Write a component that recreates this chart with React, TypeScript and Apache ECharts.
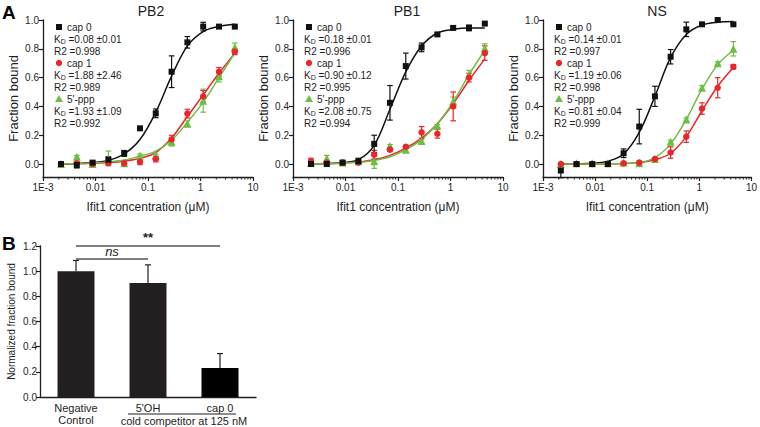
import React, { useEffect, useRef } from "react";
import * as echarts from "echarts";

// ---------- DATA ----------
const concentrations = [0.0022, 0.0044, 0.0088, 0.0176, 0.0352, 0.0703, 0.1406, 0.2813, 0.5625, 1.125, 2.25, 4.5];

const panelTitles = ["PB2", "PB1", "NS"];
const seriesNames = ["cap 0", "cap 1", "5'-ppp"];

// PB2
const pb2Cap0Mean = [0.0, -0.007, 0.01, 0.03, 0.074, 0.248, 0.352, 0.641, 0.845, 0.954, 0.954, 0.954];
const pb2Cap0Err = [0.01, 0.02, 0.01, 0.02, 0.02, 0.005, 0.03, 0.11, 0.04, 0.03, 0.005, 0.005];
const pb2Cap1Mean = [0.0, 0.005, 0.0, 0.005, 0.005, 0.016, 0.035, 0.17, 0.35, 0.47, 0.64, 0.78];
const pb2Cap1Err = [0.005, 0.01, 0.005, 0.01, 0.01, 0.02, 0.02, 0.03, 0.03, 0.04, 0.03, 0.02];
const pb2PppMean = [0.0, 0.05, 0.0, 0.04, 0.005, 0.06, 0.06, 0.155, 0.28, 0.44, 0.61, 0.81];
const pb2PppErr = [0.005, 0.01, 0.01, 0.05, 0.01, 0.01, 0.01, 0.03, 0.02, 0.08, 0.04, 0.03];
const pb2Cap0Fit = [0.0, 0.004, 0.01, 0.025, 0.07, 0.17, 0.36, 0.61, 0.82, 0.92, 0.955, 0.97];
const pb2Cap1Fit = [0.0, 0.002, 0.005, 0.01, 0.02, 0.04, 0.08, 0.18, 0.33, 0.48, 0.63, 0.77];
const pb2PppFit = [0.0, 0.003, 0.008, 0.015, 0.028, 0.055, 0.09, 0.165, 0.29, 0.43, 0.6, 0.77];

// PB1
const pb1Cap0Mean = [0.0, 0.0, 0.01, 0.02, 0.14, 0.425, 0.68, 0.81, 0.9, 0.945, 0.945, 0.975];
const pb1Cap0Err = [0.01, 0.01, 0.01, 0.02, 0.06, 0.12, 0.09, 0.03, 0.01, 0.01, 0.02, 0.01];
const pb1Cap1Mean = [0.02, 0.01, 0.01, 0.01, 0.065, 0.1, 0.12, 0.22, 0.21, 0.4, 0.6, 0.77];
const pb1Cap1Err = [0.02, 0.01, 0.01, 0.01, 0.03, 0.01, 0.01, 0.04, 0.03, 0.1, 0.03, 0.05];
const pb1PppMean = [0.01, 0.04, 0.01, 0.02, 0.02, 0.125, 0.1, 0.16, 0.265, 0.435, 0.62, 0.805];
const pb1PppErr = [0.01, 0.02, 0.01, 0.01, 0.05, 0.01, 0.01, 0.01, 0.01, 0.03, 0.03, 0.03];
const pb1Cap0Fit = [0.0, 0.003, 0.01, 0.03, 0.13, 0.38, 0.64, 0.82, 0.91, 0.935, 0.945, 0.945];
const pb1Cap1Fit = [0.0, 0.003, 0.008, 0.015, 0.03, 0.06, 0.11, 0.18, 0.28, 0.42, 0.58, 0.73];
const pb1PppFit = [0.0, 0.002, 0.006, 0.012, 0.025, 0.05, 0.1, 0.17, 0.28, 0.43, 0.62, 0.79];

// NS
const nsCap0Mean = [-0.045, 0.0, 0.0, 0.0, 0.075, 0.26, 0.47, 0.745, 0.935, 0.97, 1.0, 0.97];
const nsCap0Err = [0.05, 0.01, 0.01, 0.01, 0.03, 0.12, 0.07, 0.05, 0.05, 0.01, 0.005, 0.005];
const nsCap1Mean = [0.0, 0.0, 0.0, 0.0, 0.005, 0.01, 0.035, 0.08, 0.19, 0.385, 0.53, 0.675];
const nsCap1Err = [0.01, 0.01, 0.01, 0.01, 0.01, 0.01, 0.01, 0.04, 0.04, 0.04, 0.07, 0.015];
const nsPppMean = [0.0, 0.005, 0.005, 0.005, 0.01, 0.005, 0.035, 0.155, 0.31, 0.53, 0.7, 0.8];
const nsPppErr = [0.005, 0.005, 0.005, 0.005, 0.005, 0.005, 0.01, 0.01, 0.01, 0.015, 0.01, 0.05];
const nsCap0Fit = [0.0, 0.002, 0.005, 0.02, 0.07, 0.22, 0.47, 0.74, 0.9, 0.965, 0.985, 0.99];
const nsCap1Fit = [0.0, 0.0, 0.0, 0.001, 0.003, 0.01, 0.03, 0.075, 0.19, 0.37, 0.54, 0.67];
const nsPppFit = [0.0, 0.0, 0.0, 0.002, 0.004, 0.01, 0.045, 0.14, 0.31, 0.52, 0.69, 0.79];

const pb2Kd = ["0.08 ±0.01", "1.88 ±2.46", "1.93 ±1.09"];
const pb2R2 = ["0.998", "0.989", "0.992"];
const pb1Kd = ["0.18 ±0.01", "0.90 ±0.12", "2.08 ±0.75"];
const pb1R2 = ["0.996", "0.995", "0.994"];
const nsKd = ["0.14 ±0.01", "1.19 ±0.06", "0.81 ±0.04"];
const nsR2 = ["0.997", "0.998", "0.999"];

const fractionTicks = [0, 0.2, 0.4, 0.6, 0.8, 1.0];

// Panel B
const competitorCategories = ["Negative\nControl", "5'OH", "cap 0"];
const normalizedMean = [1.0, 0.905, 0.23];
const normalizedErr = [0.085, 0.145, 0.115];

// ---------- STYLE ----------
const FONT = "'Liberation Sans', Arial, sans-serif";
const INK = "#1e1e1e";
const BLACK = "#111111";
const RED = "#e8262b";
const GREEN = "#6fbe44";
const colors = [BLACK, RED, GREEN];
const symbols = ["rect", "circle", "triangle"];
const symbolSizes = [6, 6.5, 8];

const panels = [
  { means: [pb2Cap0Mean, pb2Cap1Mean, pb2PppMean], errs: [pb2Cap0Err, pb2Cap1Err, pb2PppErr], fits: [pb2Cap0Fit, pb2Cap1Fit, pb2PppFit], kd: pb2Kd, r2: pb2R2 },
  { means: [pb1Cap0Mean, pb1Cap1Mean, pb1PppMean], errs: [pb1Cap0Err, pb1Cap1Err, pb1PppErr], fits: [pb1Cap0Fit, pb1Cap1Fit, pb1PppFit], kd: pb1Kd, r2: pb1R2 },
  { means: [nsCap0Mean, nsCap1Mean, nsPppMean], errs: [nsCap0Err, nsCap1Err, nsPppErr], fits: [nsCap0Fit, nsCap1Fit, nsPppFit], kd: nsKd, r2: nsR2 },
];

const minorTickValues: number[] = [];
for (let d = -3; d < 1; d++) {
  for (let m = 2; m <= 9; m++) minorTickValues.push(m * Math.pow(10, d));
}

const Y_MIN_A = -0.09;

function fmtLog(v: number) {
  const e = Math.round(Math.log10(v));
  if (e <= -3) return "1E-3";
  if (e < 0) return Math.pow(10, e).toFixed(-e);
  return String(Math.round(Math.pow(10, e)));
}

function errorRenderer(color: string, capHalf: number, upOnly: boolean) {
  return (params: any, api: any) => {
    const x = api.value(0);
    const y = api.value(1);
    const e = api.value(2);
    const top = api.coord([x, y + e]);
    const bot = upOnly ? api.coord([x, y]) : api.coord([x, y - e]);
    const st = { stroke: color, lineWidth: 1.2 };
    const children: any[] = [
      { type: "line", shape: { x1: top[0], y1: top[1], x2: bot[0], y2: bot[1] }, style: st },
      { type: "line", shape: { x1: top[0] - capHalf, y1: top[1], x2: top[0] + capHalf, y2: top[1] }, style: st },
    ];
    if (!upOnly) {
      children.push({ type: "line", shape: { x1: bot[0] - capHalf, y1: bot[1], x2: bot[0] + capHalf, y2: bot[1] }, style: st });
    }
    return { type: "group", children };
  };
}

function buildOption() {
  const grid: any[] = [];
  const xAxis: any[] = [];
  const yAxis: any[] = [];
  const series: any[] = [];
  const graphic: any[] = [];

  panels.forEach((p, i) => {
    const L = 43 + 250 * i;
    grid.push({ left: L, top: 20, width: 210, height: 157 });
    xAxis.push({
      type: "log", logBase: 10, gridIndex: i, min: 0.001, max: 10,
      name: "Ifit1 concentration (μM)", nameLocation: "middle", nameGap: 24,
      nameTextStyle: { fontSize: 12, color: INK, fontFamily: FONT },
      axisLine: { show: true, onZero: false, lineStyle: { color: INK, width: 1.3 } },
      axisTick: { show: true, length: 4, lineStyle: { color: INK, width: 1.2 } },
      axisLabel: { fontSize: 10, color: INK, fontFamily: FONT, margin: 5, formatter: fmtLog },
      splitLine: { show: false },
      minorTick: { show: false },
    });
    yAxis.push({
      type: "value", gridIndex: i, min: Y_MIN_A, max: 1,
      name: "Fraction bound", nameLocation: "middle", nameGap: 23,
      nameTextStyle: { fontSize: 13, color: INK, fontFamily: FONT },
      axisLine: { show: true, onZero: false, lineStyle: { color: INK, width: 1.3 } },
      axisTick: { show: true, length: 4, customValues: fractionTicks, lineStyle: { color: INK, width: 1.2 } },
      axisLabel: { customValues: fractionTicks, fontSize: 10, color: INK, fontFamily: FONT, margin: 4, formatter: (v: number) => v.toFixed(1) },
      splitLine: { show: false },
    });

    // minor log ticks
    series.push({
      type: "custom", xAxisIndex: i, yAxisIndex: i, clip: false, silent: true, z: 1,
      data: minorTickValues.map((v) => [v, Y_MIN_A]),
      encode: { x: 0, y: 1 },
      renderItem: (params: any, api: any) => {
        const pt = api.coord([api.value(0), api.value(1)]);
        return { type: "line", shape: { x1: pt[0], y1: pt[1], x2: pt[0], y2: pt[1] + 2.5 }, style: { stroke: INK, lineWidth: 1 } };
      },
    });

    // fit curves
    p.fits.forEach((fit, s) => {
      series.push({
        type: "line", name: seriesNames[s] + " fit", xAxisIndex: i, yAxisIndex: i,
        data: concentrations.map((c, k) => [c, fit[k]]),
        smooth: 0.35, symbol: "none", showSymbol: false, silent: true, z: 2,
        lineStyle: { color: colors[s], width: 1.5 },
      });
    });
    // error bars & points (draw green/red first, black on top? follow picture: black, red, green)
    [2, 1, 0].forEach((s) => {
      series.push({
        type: "custom", xAxisIndex: i, yAxisIndex: i, clip: false, silent: true, z: 3,
        data: concentrations.map((c, k) => [c, p.means[s][k], p.errs[s][k]]),
        encode: { x: 0, y: 1 },
        renderItem: errorRenderer(colors[s], 2.8, false),
      });
      series.push({
        type: "scatter", name: seriesNames[s], xAxisIndex: i, yAxisIndex: i, z: 4,
        data: concentrations.map((c, k) => [c, p.means[s][k]]),
        symbol: symbols[s], symbolSize: symbolSizes[s],
        itemStyle: { color: colors[s], opacity: 1 },
      });
    });

    // title
    graphic.push({
      type: "text", x: [151, 407, 657][i], y: 11,
      style: { text: panelTitles[i], fontSize: 14, fontFamily: FONT, fill: INK, align: "center", verticalAlign: "middle" },
    });

    // legend box
    const mx = L + 16;
    const rows = [27, 63, 99];
    rows.forEach((ry, s) => {
      if (s === 0) graphic.push({ type: "rect", shape: { x: mx - 3, y: ry - 3, width: 6, height: 6 }, style: { fill: BLACK } });
      if (s === 1) graphic.push({ type: "circle", shape: { cx: mx, cy: ry, r: 3.2 }, style: { fill: RED } });
      if (s === 2) graphic.push({ type: "polygon", shape: { points: [[mx, ry - 4], [mx - 4, ry + 3], [mx + 4, ry + 3]] }, style: { fill: GREEN } });
      graphic.push({ type: "text", x: L + 24, y: ry, style: { text: seriesNames[s], fontSize: 10, fontFamily: FONT, fill: INK, verticalAlign: "middle" } });
      graphic.push({
        type: "text", x: L + 11, y: ry + 12,
        style: {
          text: `{k|K}{d|D}{k| =${p.kd[s]}}`,
          verticalAlign: "middle",
          rich: {
            k: { fontSize: 10, fontFamily: FONT, fill: INK, lineHeight: 12 },
            d: { fontSize: 7, fontFamily: FONT, fill: INK, verticalAlign: "bottom", lineHeight: 8 },
          },
        },
      });
      graphic.push({ type: "text", x: L + 11, y: ry + 24, style: { text: `R2 =${p.r2[s]}`, fontSize: 10, fontFamily: FONT, fill: INK, verticalAlign: "middle" } });
    });
  });

  // ----- Panel B -----
  grid.push({ left: 40, top: 246, width: 216, height: 151 });
  xAxis.push({
    type: "category", gridIndex: 3, data: competitorCategories,
    axisLine: { show: true, onZero: false, lineStyle: { color: INK, width: 1.3 } },
    axisTick: { show: false },
    axisLabel: { fontSize: 11, color: INK, fontFamily: FONT, margin: 5, lineHeight: 12, interval: 0 },
  });
  yAxis.push({
    type: "value", gridIndex: 3, min: 0, max: 1.2, interval: 0.2,
    name: "Normalized fraction bound", nameLocation: "middle", nameGap: 24,
    nameTextStyle: { fontSize: 10, color: INK, fontFamily: FONT },
    axisLine: { show: true, lineStyle: { color: INK, width: 1.3 } },
    axisTick: { show: true, length: 4, lineStyle: { color: INK, width: 1.2 } },
    axisLabel: { fontSize: 10, color: INK, fontFamily: FONT, margin: 3, formatter: (v: number) => v.toFixed(1) },
    splitLine: { show: false },
  });
  series.push({
    type: "bar", xAxisIndex: 3, yAxisIndex: 3, barWidth: 37, z: 2,
    data: normalizedMean.map((v, k) => ({ value: v, itemStyle: { color: k === 2 ? "#000000" : "#231f20" } })),
    markLine: {
      silent: true, symbol: ["none", "none"],
      lineStyle: { color: "#555555", width: 1.5, type: "solid" },
      data: [
        [
          { coord: [competitorCategories[0], 1.1], label: { show: true, formatter: "ns", position: "insideMiddleTop", fontStyle: "italic", fontSize: 13, color: INK, fontFamily: FONT, distance: 1 } },
          { coord: [competitorCategories[1], 1.1] },
        ],
        [
          { coord: [competitorCategories[0], 1.2], label: { show: true, formatter: "**", position: "insideMiddleTop", fontSize: 13, fontWeight: "bold", color: INK, fontFamily: FONT, distance: 2 } },
          { coord: [competitorCategories[2], 1.2] },
        ],
      ],
    },
  });
  series.push({
    type: "custom", xAxisIndex: 3, yAxisIndex: 3, clip: false, silent: true, z: 1,
    data: normalizedMean.map((v, k) => [k, v, normalizedErr[k]]),
    encode: { x: 0, y: 1 },
    renderItem: errorRenderer("#231f20", 3, true),
  });

  graphic.push({ type: "line", shape: { x1: 128, y1: 414, x2: 236, y2: 414 }, style: { stroke: INK, lineWidth: 1 } });
  graphic.push({ type: "text", x: 184, y: 421, style: { text: "cold competitor at 125 nM", fontSize: 11, fontFamily: FONT, fill: INK, align: "center", verticalAlign: "middle" } });

  // panel letters
  graphic.push({ type: "text", x: 2, y: 12, style: { text: "A", fontSize: 19, fontWeight: "bold", fontFamily: FONT, fill: "#000", verticalAlign: "middle" } });
  graphic.push({ type: "text", x: 2, y: 243, style: { text: "B", fontSize: 19, fontWeight: "bold", fontFamily: FONT, fill: "#000", verticalAlign: "middle" } });

  return {
    animation: false,
    backgroundColor: "#ffffff",
    textStyle: { fontFamily: FONT },
    grid, xAxis, yAxis, series, graphic,
  };
}

export default function App() {
  const ref = useRef<HTMLDivElement>(null);
  useEffect(() => {
    if (!ref.current) return;
    const chart = echarts.init(ref.current, null, { renderer: "svg" });
    chart.setOption(buildOption() as any);
    return () => chart.dispose();
  }, []);
  return (
    <div
      ref={ref}
      style={{ position: "absolute", left: 0, top: 0, width: 760, height: 427, background: "#fff" }}
    />
  );
}
